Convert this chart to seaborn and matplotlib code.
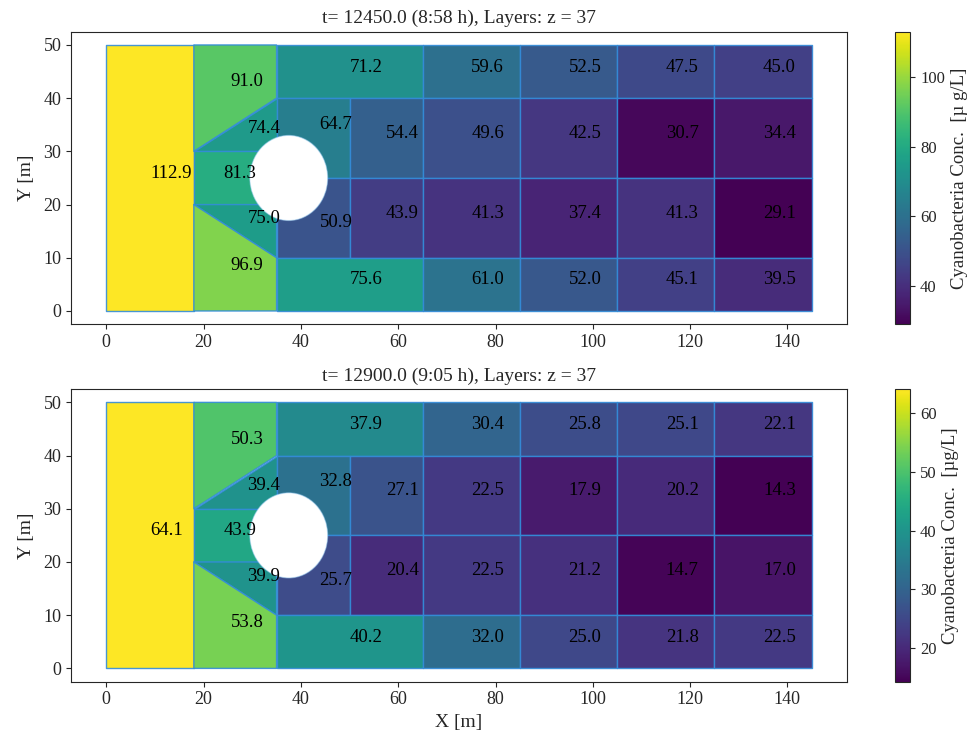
'''
plot.py

cyanobacteria concentration per mesh cell, two time steps
'''
import matplotlib
matplotlib.use('Agg')
import matplotlib.pyplot as plt
from matplotlib.collections import PolyCollection
from matplotlib.patches import Circle
from matplotlib.path import Path
import seaborn as sns
import numpy as np

# mesh outline [m]
x_inlet = 18
x_wedge = 35
x_split = 50
x_near = 65
far_cols = [65, 85, 105, 125, 145]
rows = [(40, 50), (25, 40), (10, 25), (0, 10)]
y_top = 50
pillar_xy = (37.5, 25)
pillar_r = 8

titles = ['t= 12450.0 (8:58 h), Layers: z = 37',
          't= 12900.0 (9:05 h), Layers: z = 37']
cbar_labels = ['Cyanobacteria Conc.  [µ g/L]', 'Cyanobacteria Conc.  [µg/L]']

# inlet, upper wedge, upper triangle, middle, lower triangle, lower wedge
left_t1 = [112.9, 91.0, 74.4, 81.3, 75.0, 96.9]
left_t2 = [64.1, 50.3, 39.4, 43.9, 39.9, 53.8]

# top strip, upper 35-50, upper 50-65, lower 35-50, lower 50-65, bottom strip
near_t1 = [71.2, 64.7, 54.4, 50.9, 43.9, 75.6]
near_t2 = [37.9, 32.8, 27.1, 25.7, 20.4, 40.2]

# far field, rows top to bottom, columns left to right
far_t1 = [[59.6, 52.5, 47.5, 45.0],
          [49.6, 42.5, 30.7, 34.4],
          [41.3, 37.4, 41.3, 29.1],
          [61.0, 52.0, 45.1, 39.5]]
far_t2 = [[30.4, 25.8, 25.1, 22.1],
          [22.5, 17.9, 20.2, 14.3],
          [22.5, 21.2, 14.7, 17.0],
          [32.0, 25.0, 21.8, 22.5]]


def rect(x0, x1, y0, y1):
    return [(x0, y0), (x1, y0), (x1, y1), (x0, y1)]


def build_cells():
    ''' polygons in the same order as the value lists '''
    cy = pillar_xy[1]
    cells = [
        rect(0, x_inlet, 0, y_top),
        [(x_inlet, cy + 5), (x_wedge, cy + 15), (x_wedge, y_top), (x_inlet, y_top)],
        [(x_inlet, cy + 5), (x_wedge, cy + 5), (x_wedge, cy + 15)],
        rect(x_inlet, x_wedge, cy - 5, cy + 5),
        [(x_inlet, cy - 5), (x_wedge, cy - 15), (x_wedge, cy - 5)],
        [(x_inlet, 0), (x_wedge, 0), (x_wedge, cy - 15), (x_inlet, cy - 5)],
        rect(x_wedge, x_near, *rows[0]),
        rect(x_wedge, x_split, *rows[1]),
        rect(x_split, x_near, *rows[1]),
        rect(x_wedge, x_split, *rows[2]),
        rect(x_split, x_near, *rows[2]),
        rect(x_wedge, x_near, *rows[3]),
    ]
    for y0, y1 in rows:
        for x0, x1 in zip(far_cols[:-1], far_cols[1:]):
            cells.append(rect(x0, x1, y0, y1))
    return cells


def label_anchor(poly, step=0.1):
    ''' centroid of the cell area outside the pillar '''
    poly = np.array(poly)
    xs = np.arange(poly[:, 0].min(), poly[:, 0].max(), step) + step / 2
    ys = np.arange(poly[:, 1].min(), poly[:, 1].max(), step) + step / 2
    gx, gy = np.meshgrid(xs, ys)
    pts = np.column_stack([gx.ravel(), gy.ravel()])
    inside = Path(poly).contains_points(pts)
    outside = np.hypot(pts[:, 0] - pillar_xy[0], pts[:, 1] - pillar_xy[1]) > pillar_r
    keep = pts[inside & outside]
    return keep.mean(axis=0)


sns.set_style('ticks')
plt.rcParams['font.family'] = ['Liberation Serif', 'DejaVu Serif']

cmap = sns.color_palette('viridis', as_cmap=True)
cells = build_cells()
anchors = [label_anchor(c) for c in cells]

panels = [
    left_t1 + near_t1 + list(np.ravel(far_t1)),
    left_t2 + near_t2 + list(np.ravel(far_t2)),
]

fig = plt.figure(figsize=(9.69, 7.38), dpi=100)
ax_pos = [[0.0733, 0.5606, 0.8008, 0.3965], [0.0733, 0.0763, 0.8008, 0.3965]]
cax_pos = [[0.9235, 0.5606, 0.016, 0.3965], [0.9235, 0.0763, 0.016, 0.3965]]

for i, values in enumerate(panels):
    ax = fig.add_axes(ax_pos[i])
    cax = fig.add_axes(cax_pos[i])

    # colour range follows the data of each time step
    coll = PolyCollection(cells, array=np.array(values), cmap=cmap,
                          edgecolors=(0.2, 0.55, 0.85, 0.9), linewidths=1.0)
    ax.add_collection(coll)
    ax.add_patch(Circle(pillar_xy, pillar_r, facecolor='white',
                        edgecolor=(0.6, 0.8, 0.95, 0.5), linewidth=0.8, zorder=3))

    for (x, y), v in zip(anchors, values):
        ax.text(x, y, f'{v:.1f}', fontsize=13.5, color='black', zorder=4)

    ax.autoscale_view()
    ax.set_title(titles[i], fontsize=14)
    ax.set_ylabel('Y [m]', fontsize=14, labelpad=6)
    if i == 1:
        ax.set_xlabel('X [m]', fontsize=14)
    ax.tick_params(labelsize=13)

    cb = fig.colorbar(coll, cax=cax)
    cb.set_label(cbar_labels[i], fontsize=13.5, labelpad=4)
    cb.ax.tick_params(labelsize=12)

fig.savefig('out.png', dpi=100)
